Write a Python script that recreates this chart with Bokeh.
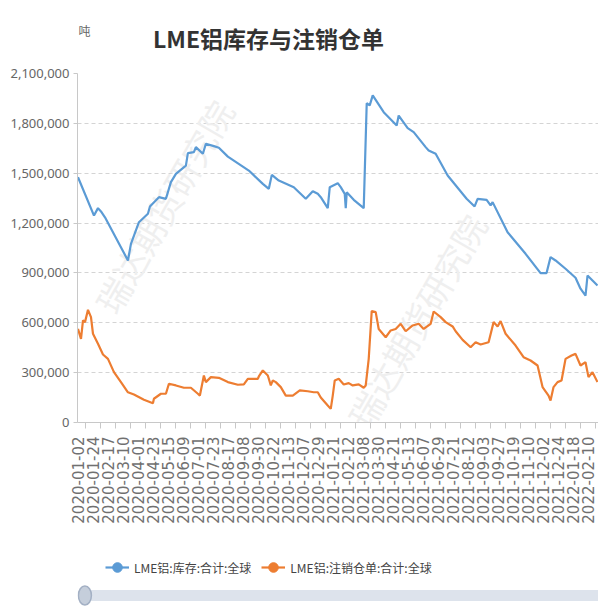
import math
from bokeh.plotting import figure
from bokeh.models import (Range1d, FixedTicker, NumeralTickFormatter, Label,
                          Legend, LegendItem)
from bokeh.layouts import column
from bokeh.embed import file_html
from bokeh.resources import INLINE

# ---------------- data ----------------
tick_labels = ["2020-01-02", "2020-01-24", "2020-02-17", "2020-03-10", "2020-04-01",
               "2020-04-23", "2020-05-15", "2020-06-09", "2020-07-01", "2020-07-23",
               "2020-08-17", "2020-09-08", "2020-09-30", "2020-10-22", "2020-11-13",
               "2020-12-07", "2020-12-29", "2021-01-21", "2021-02-12", "2021-03-08",
               "2021-03-30", "2021-04-21", "2021-05-13", "2021-06-07", "2021-06-29",
               "2021-07-21", "2021-08-12", "2021-09-03", "2021-09-27", "2021-10-19",
               "2021-11-10", "2021-12-02", "2021-12-24", "2022-01-18", "2022-02-10",
               "2022-03-04"]
days_per_label = 15  # trading days between two shown date labels

y_ticks = [0, 300000, 600000, 900000, 1200000, 1500000, 1800000, 2100000]

# LME aluminium stocks (trading-day number, tonnes)
stock_day = [0, 16, 20, 23, 27, 50, 53, 61, 70, 72, 81, 88, 93, 98, 108, 110, 116, 118,
             125, 128, 136, 141, 150, 171, 185, 191, 194, 201, 216, 228, 235, 240, 243,
             250, 252, 260, 263, 267, 268, 269, 276, 286, 289, 292, 295, 306, 319, 321,
             330, 336, 348, 351, 358, 370, 389, 397, 400, 409, 413, 415, 430, 448, 463,
             469, 473, 478, 488, 498, 503, 508, 510, 515, 520]
stock_val = [1476000, 1245000, 1290000, 1270000, 1235000, 975000, 1075000, 1205000,
             1256000, 1300000, 1356000, 1346000, 1446000, 1496000, 1546000, 1621000,
             1627000, 1657000, 1617000, 1677000, 1663000, 1653000, 1600000, 1516000,
             1436000, 1406000, 1490000, 1456000, 1416000, 1346000, 1392000, 1376000,
             1356000, 1290000, 1416000, 1440000, 1416000, 1376000, 1290000, 1385000,
             1340000, 1290000, 1921000, 1908000, 1968000, 1867000, 1787000, 1847000,
             1771000, 1747000, 1657000, 1637000, 1617000, 1486000, 1346000, 1300000,
             1346000, 1340000, 1306000, 1326000, 1145000, 1015000, 899000, 899000,
             995000, 975000, 925000, 871000, 805000, 764000, 884000, 854000, 824000]

# LME aluminium cancelled warrants (trading-day number, tonnes)
cancel_day = [0, 3, 5, 7, 10, 13, 15, 20, 25, 30, 36, 43, 50, 56, 66, 75, 76, 83, 88,
              91, 98, 106, 113, 120, 122, 126, 128, 133, 141, 150, 160, 166, 170, 180,
              181, 185, 190, 193, 195, 198, 203, 208, 215, 222, 230, 236, 240, 243, 250,
              253, 255, 257, 261, 266, 271, 275, 281, 286, 288, 291, 294, 298, 301, 308,
              313, 318, 323, 328, 335, 341, 346, 353, 356, 363, 368, 375, 378, 385, 393,
              398, 403, 411, 416, 420, 423, 428, 438, 446, 453, 460, 465, 471, 473, 476,
              480, 484, 488, 494, 498, 503, 508, 511, 515, 520]
cancel_val = [563000, 503000, 614000, 604000, 678000, 634000, 534000, 474000, 409000,
              383000, 303000, 243000, 182000, 168000, 137000, 116000, 143000, 173000,
              173000, 233000, 223000, 209000, 209000, 173000, 162000, 283000, 243000,
              273000, 269000, 243000, 227000, 229000, 263000, 263000, 277000, 313000,
              283000, 223000, 253000, 243000, 213000, 162000, 162000, 193000, 188000,
              182000, 182000, 150000, 102000, 82000, 162000, 253000, 263000, 229000,
              237000, 223000, 229000, 209000, 223000, 383000, 670000, 664000, 563000,
              513000, 554000, 563000, 594000, 549000, 584000, 594000, 563000, 594000,
              668000, 634000, 604000, 578000, 549000, 497000, 453000, 483000, 469000,
              483000, 604000, 578000, 610000, 534000, 463000, 393000, 373000, 343000,
              213000, 162000, 132000, 213000, 243000, 253000, 383000, 403000, 413000,
              343000, 363000, 273000, 303000, 243000]

stock_name = "LME铝:库存:合计:全球"
cancel_name = "LME铝:注销仓单:合计:全球"
title_text = "LME铝库存与注销仓单"
unit_text = "吨"
watermark = "瑞达期货研究院"

BLUE = "#5b9bd5"
ORANGE = "#ed7d31"
W = 598
LEFT = 77   # frame left edge (frames of the stacked figures are aligned)
NAN = float("nan")

# ---------------- header (title + unit) ----------------
h = figure(width=W, height=65, output_backend="svg", toolbar_location=None,
           x_range=Range1d(0, 1), y_range=Range1d(0, 1),
           x_axis_type=None, y_axis_type=None,
           min_border_left=LEFT, min_border_right=0, min_border_top=0, min_border_bottom=0)
h.outline_line_color = None
h.grid.visible = False
h.add_layout(Label(x=191, y=28, x_units="screen", y_units="screen", text=title_text,
                   text_align="center", text_baseline="middle",
                   text_font="Noto Sans CJK SC", text_font_size="23px",
                   text_font_style="bold", text_color="#333333"))
h.add_layout(Label(x=1, y=35, x_units="screen", y_units="screen", text=unit_text,
                   text_align="left", text_baseline="middle",
                   text_font="Noto Sans CJK SC", text_font_size="12px",
                   text_color="#666666"))

# ---------------- main chart ----------------
x_start, x_end = -0.5, 521
p = figure(width=W, height=485, output_backend="svg", toolbar_location=None,
           x_range=Range1d(x_start, x_end), y_range=Range1d(0, 2100000),
           min_border_left=LEFT, min_border_right=0, min_border_top=8,
           min_border_bottom=128)
p.outline_line_color = None
p.border_fill_color = "white"
p.background_fill_color = "white"

label_pos = [i * days_per_label for i in range(len(tick_labels))]
p.xaxis.ticker = FixedTicker(ticks=label_pos,
                             minor_ticks=[v + days_per_label / 2 for v in label_pos])
p.xaxis.major_label_overrides = {v: lab for v, lab in zip(label_pos, tick_labels)}
p.xaxis.major_label_orientation = math.pi / 2
p.xaxis.major_label_text_font = "DejaVu Sans"
p.xaxis.major_label_text_font_size = "15px"
p.xaxis.major_label_text_color = "#707070"
p.xaxis.major_tick_line_color = None
p.xaxis.major_tick_out = 7
p.xaxis.major_tick_in = 0
p.xaxis.minor_tick_line_color = "#c8c8c8"
p.xaxis.minor_tick_out = 6
p.xaxis.minor_tick_in = 0
p.xaxis.major_label_standoff = 7
p.xaxis.axis_line_color = "#c8c8c8"

p.yaxis.ticker = FixedTicker(ticks=y_ticks)
p.yaxis.formatter = NumeralTickFormatter(format="0,0")
p.yaxis.major_label_text_font = "Noto Sans"
p.yaxis.major_label_text_font_size = "13px"
p.yaxis.major_label_text_color = "#666666"
p.yaxis.major_tick_line_color = "#c8c8c8"
p.yaxis.major_tick_out = 4
p.yaxis.major_tick_in = 0
p.yaxis.minor_tick_line_color = None
p.yaxis.major_label_standoff = 4
p.yaxis.axis_line_color = "#c8c8c8"

p.xgrid.visible = False
p.ygrid.grid_line_color = "#d4d4d4"
p.ygrid.grid_line_dash = "4 3"

for wx, wy in [(86, 1300000), (339, 613000)]:
    p.add_layout(Label(x=wx, y=wy, text=watermark, angle=60, angle_units="deg",
                       text_align="center", text_baseline="middle",
                       text_font="Noto Sans CJK SC", text_font_size="34px",
                       text_color="#efefef", level="underlay"))

p.line(stock_day, stock_val, line_color=BLUE, line_width=2.2)
p.line(cancel_day, cancel_val, line_color=ORANGE, line_width=2.2)

# ---------------- footer (legend + data-zoom strip) ----------------
units_per_px = (x_end - x_start) / (W - LEFT)
f = figure(width=W, height=58, output_backend="svg", toolbar_location=None,
           x_range=Range1d(x_start - 7 * units_per_px, x_end), y_range=Range1d(-13, 45),
           x_axis_type=None, y_axis_type=None,
           min_border_left=LEFT, min_border_right=0, min_border_top=0, min_border_bottom=0)
f.outline_line_color = None
f.grid.visible = False

f.line([stock_day[0], stock_day[-1]], [0, 0], line_width=11, line_color="#dde3ec",
       line_cap="round")
f.ellipse([stock_day[0]], [0], width=13, height=19, width_units="screen",
          height_units="screen", fill_color="#c5cedb", line_color="#a3b0c4",
          line_width=1.5)

l1 = f.line([NAN], [NAN], line_color=BLUE, line_width=2.2)
s1 = f.scatter([NAN], [NAN], size=10, fill_color=BLUE, line_color=BLUE)
l2 = f.line([NAN], [NAN], line_color=ORANGE, line_width=2.2)
s2 = f.scatter([NAN], [NAN], size=10, fill_color=ORANGE, line_color=ORANGE)

legend = Legend(items=[LegendItem(label=stock_name, renderers=[l1, s1]),
                       LegendItem(label=cancel_name, renderers=[l2, s2])],
                location=(28, 28), orientation="horizontal",
                glyph_width=24, glyph_height=26, label_height=26,
                label_standoff=5, spacing=10, padding=0, margin=0,
                border_line_color=None, background_fill_alpha=0,
                label_text_font="Noto Sans CJK SC", label_text_font_size="12px",
                label_text_color="#444444")
f.add_layout(legend, "center")

layout = column(h, p, f, spacing=0)
open("out.html", "w").write(file_html(layout, INLINE))
